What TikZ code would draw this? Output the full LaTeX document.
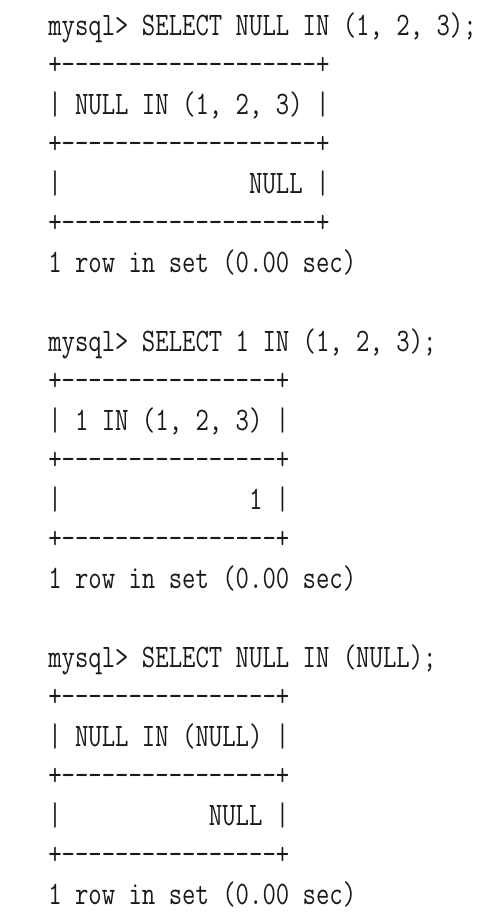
\documentclass[tikz,border=0pt]{standalone}
\usepackage{graphicx}
\usepackage{tikz}
\usetikzlibrary{positioning}
\definecolor{ink}{HTML}{1A1A1A}
\newcommand{\tall}[1]{\scalebox{1}[1.26]{#1}}
\newcommand{\dashrule}[1]{\tall{+\foreach \i in {1,...,#1}{-}+}}

\begin{document}
\begin{tikzpicture}[x=0.75pt,y=-0.75pt,
  line/.style={anchor=base west,inner sep=0pt,text=ink,
    font=\fontsize{19.5}{20}\selectfont\ttfamily}]
  \useasboundingbox (0,0) rectangle (490,922);
  % first query
  \node[line] (query1) at (48,35) {\tall{mysql> SELECT NULL IN (1, 2, 3);}};
  \node[line] (top1) at (48,74.5) {\dashrule{19}};
  \node[line] (head1) at (48,114) {\tall{| NULL IN (1, 2, 3) |}};
  \node[line] (mid1) at (48,153.5) {\dashrule{19}};
  \node[line] (val1) at (48,193) {\tall{|~~~~~~~~~~~~~~NULL |}};
  \node[line] (bot1) at (48,232.5) {\dashrule{19}};
  \node[line] (info1) at (48,272) {\tall{1 row in set (0.00 sec)}};
  % second query
  \node[line] (query2) at (48,351) {\tall{mysql> SELECT 1 IN (1, 2, 3);}};
  \node[line] (top2) at (48,390.5) {\dashrule{16}};
  \node[line] (head2) at (48,430) {\tall{| 1 IN (1, 2, 3) |}};
  \node[line] (mid2) at (48,469.5) {\dashrule{16}};
  \node[line] (val2) at (48,509) {\tall{|~~~~~~~~~~~~~~1 |}};
  \node[line] (bot2) at (48,548.5) {\dashrule{16}};
  \node[line] (info2) at (48,588) {\tall{1 row in set (0.00 sec)}};
  % third query
  \node[line] (query3) at (48,667) {\tall{mysql> SELECT NULL IN (NULL);}};
  \node[line] (top3) at (48,706.5) {\dashrule{16}};
  \node[line] (head3) at (48,746) {\tall{| NULL IN (NULL) |}};
  \node[line] (mid3) at (48,785.5) {\dashrule{16}};
  \node[line] (val3) at (48,825) {\tall{|~~~~~~~~~~~NULL |}};
  \node[line] (bot3) at (48,864.5) {\dashrule{16}};
  \node[line] (info3) at (48,904) {\tall{1 row in set (0.00 sec)}};
\end{tikzpicture}
\end{document}
